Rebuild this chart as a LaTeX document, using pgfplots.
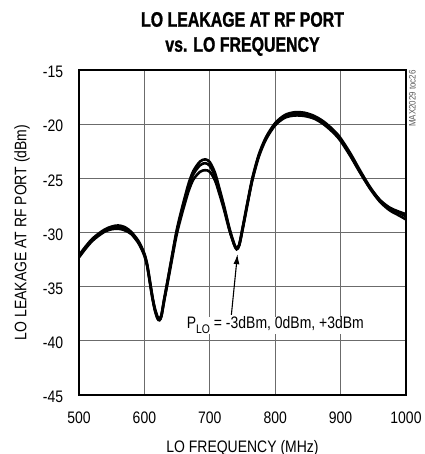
\documentclass[border=0pt]{standalone}
\usepackage{fontspec}
\usepackage{pgfplots}
\pgfplotsset{compat=1.18}
\usetikzlibrary{arrows.meta}
\setmainfont{Liberation Sans}[FakeStretch=0.84]
\newfontfamily\titlefont{Liberation Sans}[FakeStretch=0.76, FakeBold=1.2]
\begin{document}
\begin{tikzpicture}
\begin{axis}[
  scale only axis, width=327bp, height=325bp,
  xmin=500, xmax=1000, ymin=-45, ymax=-15,
  xtick={500,600,...,1000}, ytick={-45,-40,...,-15},
  grid=major, major grid style={black!58, line width=1.1bp},
  major tick length=0pt,
  axis line style={line width=2.8bp},
  /pgf/number format/assume math mode=true,
  /pgf/number format/1000 sep={},
  tick label style={font=\fontsize{16.7}{18}\selectfont, inner sep=0pt},
  xticklabel style={anchor=base, yshift=-28.3bp},
  yticklabel style={anchor=east, xshift=-15.7bp, yshift=-2bp},
  xlabel={LO FREQUENCY (MHz)},
  ylabel={LO LEAKAGE AT RF PORT (dBm)},
  label style={font=\fontsize{16.7}{18}\selectfont, inner sep=0pt},
  xlabel style={at={(rel axis cs:0.5,0)}, anchor=base, yshift=-57bp},
  ylabel style={at={(rel axis cs:0,0.5)}, anchor=center, yshift=57bp},
  clip=true,
]
\addplot[black, line width=2.6bp, smooth, tension=0.5] coordinates {
(500,-32.1) (510,-31.3) (520,-30.6) (530,-30.1) (540,-29.7) (550,-29.45) (560,-29.35) (570,-29.5) (580,-29.95) (590,-30.7) (595,-31.25) (600,-31.95) (604,-32.85) (608,-34.3) (612,-35.8) (616,-37.0) (620,-37.75) (623,-37.95) (626,-37.6) (630,-36.2) (634,-34.9) (640,-32.9) (649,-29.9) (656,-28.1) (662,-26.7) (668,-25.4) (675,-24.3) (685,-23.45) (693,-23.25) (700,-23.5) (708,-24.5) (715,-26.0) (722,-27.6) (730,-29.6) (737,-31.0) (741,-31.45) (745,-31.1) (750,-29.6) (757,-27.4) (765,-25.0) (775,-22.8) (786,-21.2) (800,-19.9) (815,-19.15) (830,-18.9) (845,-18.95) (860,-19.25) (875,-19.8) (890,-20.6) (900,-21.3) (915,-22.7) (930,-24.3) (945,-25.8) (960,-27.0) (975,-27.75) (990,-28.2) (1000,-28.5)
};
\addplot[black, line width=2.6bp, smooth, tension=0.5] coordinates {
(500,-32.2) (510,-31.4) (520,-30.7) (530,-30.2) (540,-29.8) (550,-29.55) (560,-29.5) (570,-29.65) (580,-30.05) (590,-30.8) (595,-31.35) (600,-32.05) (604,-32.95) (608,-34.4) (612,-35.9) (616,-37.1) (620,-37.85) (623,-38.05) (626,-37.7) (630,-36.3) (634,-35.0) (640,-33.0) (649,-30.05) (656,-28.3) (662,-26.9) (668,-25.65) (675,-24.6) (685,-23.8) (693,-23.6) (700,-23.85) (708,-24.8) (715,-26.2) (722,-27.75) (730,-29.7) (737,-31.05) (741,-31.5) (745,-31.15) (750,-29.7) (757,-27.5) (765,-25.1) (775,-22.9) (786,-21.3) (800,-20.0) (815,-19.3) (830,-19.05) (845,-19.1) (860,-19.4) (875,-19.95) (890,-20.75) (900,-21.45) (915,-22.85) (930,-24.45) (945,-25.95) (960,-27.15) (975,-27.95) (990,-28.45) (1000,-28.8)
};
\addplot[black, line width=2.6bp, smooth, tension=0.5] coordinates {
(500,-32.3) (510,-31.5) (520,-30.8) (530,-30.3) (540,-29.9) (550,-29.7) (560,-29.65) (570,-29.8) (580,-30.15) (590,-30.9) (595,-31.45) (600,-32.15) (604,-33.05) (608,-34.5) (612,-36.0) (616,-37.2) (620,-37.95) (623,-38.1) (626,-37.75) (630,-36.4) (634,-35.15) (640,-33.2) (649,-30.3) (656,-28.6) (662,-27.3) (668,-26.1) (675,-25.1) (685,-24.4) (693,-24.25) (700,-24.4) (708,-25.2) (715,-26.5) (722,-27.95) (730,-29.8) (737,-31.1) (741,-31.55) (745,-31.2) (750,-29.8) (757,-27.6) (765,-25.2) (775,-23.0) (786,-21.4) (800,-20.1) (815,-19.4) (830,-19.2) (845,-19.25) (860,-19.5) (875,-20.05) (890,-20.85) (900,-21.55) (915,-22.95) (930,-24.5) (945,-25.9) (960,-27.0) (975,-27.7) (990,-28.1) (1000,-28.3)
};
\coordinate (bl) at (rel axis cs:0,0);
\coordinate (tr) at (rel axis cs:1,1);
\coordinate (tc) at (rel axis cs:0.5,1);
\draw[line width=1.1bp, -{Latex[length=10bp,width=6bp]}] (axis cs:733,-37.6) -- (axis cs:742.3,-32.0);
\node[anchor=base west, inner sep=0pt, font=\fontsize{16.7}{18}\selectfont, fill=white, inner xsep=1pt] at (axis cs:663,-38.9) {P\raisebox{-0.3em}{\fontsize{12.5}{13}\selectfont LO} = -3dBm, 0dBm, +3dBm};
\end{axis}
\node[anchor=base, inner sep=0pt, font=\titlefont\bfseries\fontsize{21}{22}\selectfont] at ([yshift=43.3bp]tc) {LO LEAKAGE AT RF PORT};
\node[anchor=base, inner sep=0pt, font=\titlefont\bfseries\fontsize{21}{22}\selectfont] at ([yshift=18.3bp]tc) {vs. LO FREQUENCY};
\node[rotate=90, anchor=south west, inner sep=0pt, text=black!65, font=\fontsize{9.5}{10}\selectfont] at ([shift={(10bp,-57bp)}]tr) {MAX2029 toc26};
\pgfresetboundingbox
\path ([shift={(-79bp,-59bp)}]bl) rectangle ([shift={(19bp,70bp)}]tr);
\end{tikzpicture}
\end{document}
